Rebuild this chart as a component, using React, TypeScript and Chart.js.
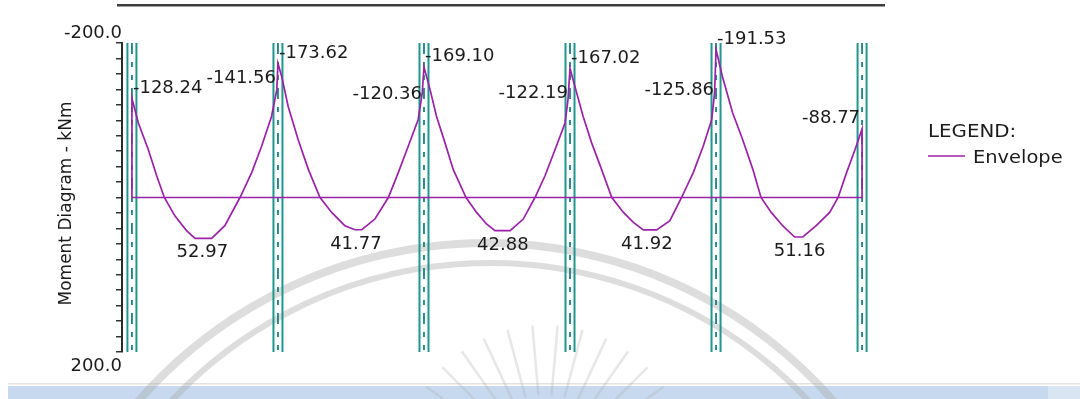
import React, { useEffect, useRef } from 'react';
import { Chart, registerables } from 'chart.js';

Chart.register(...registerables);

// ---- Data (x in m along the beam, M in kNm) ----
const supportX = [0, 5, 10, 15, 20, 25];

const envelopeX = [
  0, 0, 0.22, 0.56, 0.85, 1.11, 1.47, 1.87, 2.16, 2.73, 3.18, 3.70, 4.10, 4.44, 4.78, 4.96, 5.0,
  5.13, 5.35, 5.69, 6.04, 6.44, 6.84, 7.29, 7.64, 7.87, 8.32, 8.78, 9.12, 9.46, 9.80, 9.94, 10.0,
  10.21, 10.43, 10.72, 11.00, 11.44, 11.80, 12.14, 12.43, 12.95, 13.40, 13.80, 14.14, 14.49, 14.83, 14.93, 15.0,
  15.2, 15.45, 15.74, 16.08, 16.43, 16.83, 17.17, 17.51, 17.97, 18.42, 18.82, 19.22, 19.56, 19.85, 19.95, 20.0,
  20.22, 20.57, 20.91, 21.26, 21.54, 21.89, 22.28, 22.69, 22.97, 23.43, 23.89, 24.18, 24.47, 24.76, 25.0,
  25.0, 0,
];
const envelopeM = [
  0, -128.24, -96.5, -62.1, -27.8, 0, 23.7, 42.9, 52.97, 52.97, 36.5, 0, -32.2, -66.4, -104.9, -139.3, -173.62,
  -156.4, -117.8, -75.0, -36.4, 0, 19.3, 36.5, 41.77, 41.77, 27.9, 0, -32.2, -66.4, -100.7, -135.0, -169.10,
  -139.3, -104.9, -70.7, -36.4, 0, 19.3, 34.3, 42.88, 42.88, 27.9, 0, -27.8, -62.1, -96.5, -126.4, -167.02,
  -139.3, -104.9, -70.7, -36.4, 0, 19.3, 32.2, 41.92, 41.92, 30.1, 0, -32.2, -66.4, -100.7, -135.0, -191.53,
  -156.4, -109.3, -75.0, -36.4, 0, 19.3, 36.5, 51.16, 51.16, 36.5, 19.3, 0, -32.2, -62.1, -88.77,
  0, 0,
];

const hogLabelX = [0, 5, 5, 10, 10, 15, 15, 20, 20, 25];
const hogLabelM = [-128.24, -141.56, -173.62, -120.36, -169.10, -122.19, -167.02, -125.86, -191.53, -88.77];
const hogLabelSide = ['right', 'left', 'right', 'left', 'right', 'left', 'right', 'left', 'right', 'left'];

const sagLabelX = [2.41, 7.67, 12.70, 17.63, 22.86];
const sagLabelM = [52.97, 41.77, 42.88, 41.92, 51.16];

const yMin = -200;
const yMax = 200;
const yTickLabels = [-200, 200];
const yTitle = 'Moment Diagram - kNm';
const seriesName = 'Envelope';
const legendTitle = 'LEGEND:';

// ---- Styles ----
const PURPLE = '#9a22a6';
const TEAL = '#1f968e';
const TEAL_DARK = '#1b827c';
const TEXT = '#1b1b1b';
const FONT = '"DejaVu Sans", "Liberation Sans", sans-serif';

function drawText(ctx: CanvasRenderingContext2D, text: string, x: number, y: number, align: CanvasTextAlign, scaleX = 1) {
  ctx.save();
  ctx.translate(x, y);
  ctx.scale(scaleX, 1);
  ctx.textAlign = align;
  ctx.textBaseline = 'alphabetic';
  ctx.fillText(text, 0, 0);
  ctx.restore();
}

const decorPlugin = {
  id: 'decor',
  beforeDraw(chart: any) {
    const ctx: CanvasRenderingContext2D = chart.ctx;
    ctx.save();
    ctx.fillStyle = '#ffffff';
    ctx.fillRect(0, 0, chart.width, chart.height);
    // bottom band
    ctx.fillStyle = '#e2e2e2';
    ctx.fillRect(8, 383, 1072, 1.5);
    ctx.fillStyle = '#c6d9ef';
    ctx.fillRect(8, 386, 1040, 13);
    ctx.fillStyle = '#d9e5f3';
    ctx.fillRect(1048, 386, 32, 13);
    // faint watermark
    ctx.strokeStyle = 'rgba(175,175,175,0.42)';
    ctx.lineWidth = 8;
    ctx.beginPath();
    ctx.arc(486, 704, 461, 3.80, 5.63);
    ctx.stroke();
    ctx.lineWidth = 6;
    ctx.beginPath();
    ctx.arc(490, 700, 437, 3.85, 5.58);
    ctx.stroke();
    ctx.strokeStyle = 'rgba(175,175,175,0.3)';
    ctx.lineWidth = 2.5;
    for (let a = 205; a <= 335; a += 10) {
      const r = (a * Math.PI) / 180;
      ctx.beginPath();
      ctx.moveTo(545 + Math.cos(r) * 75, 470 + Math.sin(r) * 75);
      ctx.lineTo(545 + Math.cos(r) * 145, 470 + Math.sin(r) * 145);
      ctx.stroke();
    }
    // top rule
    ctx.fillStyle = '#3c3c3c';
    ctx.fillRect(117, 4, 768, 2.5);
    ctx.restore();
  },
  beforeDatasetsDraw(chart: any) {
    const ctx: CanvasRenderingContext2D = chart.ctx;
    const xs = chart.scales.x;
    const ys = chart.scales.y;
    const top = ys.getPixelForValue(yMin);
    const bottom = ys.getPixelForValue(yMax);
    ctx.save();
    supportX.forEach((s) => {
      const px = xs.getPixelForValue(s);
      ctx.strokeStyle = TEAL;
      ctx.lineWidth = 2;
      ctx.setLineDash([]);
      [px - 4.5, px + 4.5].forEach((lx) => {
        ctx.beginPath();
        ctx.moveTo(lx, top);
        ctx.lineTo(lx, bottom);
        ctx.stroke();
      });
      ctx.strokeStyle = TEAL_DARK;
      ctx.lineWidth = 1.8;
      ctx.setLineDash([11, 8, 5, 8, 5, 8]);
      ctx.beginPath();
      ctx.moveTo(px, top);
      ctx.lineTo(px, bottom);
      ctx.stroke();
    });
    ctx.restore();
  },
  afterDatasetsDraw(chart: any) {
    const ctx: CanvasRenderingContext2D = chart.ctx;
    const xs = chart.scales.x;
    const ys = chart.scales.y;
    ctx.save();
    ctx.fillStyle = TEXT;
    ctx.font = `18px ${FONT}`;
    hogLabelX.forEach((x, i) => {
      const px = xs.getPixelForValue(x);
      const py = ys.getPixelForValue(hogLabelM[i]);
      const right = hogLabelSide[i] === 'right';
      drawText(ctx, hogLabelM[i].toFixed(2), right ? px + 1 : px - 2, py - 5.5, right ? 'left' : 'right');
    });
    sagLabelX.forEach((x, i) => {
      const px = xs.getPixelForValue(x);
      const py = ys.getPixelForValue(sagLabelM[i]);
      drawText(ctx, sagLabelM[i].toFixed(2), px, py + 19, 'center');
    });
    // y tick labels at the ends
    const axisX = chart.chartArea.left;
    yTickLabels.forEach((v) => {
      const py = ys.getPixelForValue(v);
      const off = v === yMin ? -5 : 19;
      drawText(ctx, v.toFixed(1), axisX, py + off, 'right');
    });
    // y axis title
    ctx.font = `17px ${FONT}`;
    ctx.save();
    ctx.translate(71, (ys.getPixelForValue(yMin) + ys.getPixelForValue(yMax)) / 2 + 6);
    ctx.rotate(-Math.PI / 2);
    ctx.textAlign = 'center';
    ctx.textBaseline = 'alphabetic';
    ctx.fillText(yTitle, 0, 0);
    ctx.restore();
    // legend
    ctx.font = `18px ${FONT}`;
    drawText(ctx, legendTitle, 928, 137, 'left', 1.1);
    ctx.strokeStyle = PURPLE;
    ctx.lineWidth = 1.6;
    ctx.beginPath();
    ctx.moveTo(928, 156);
    ctx.lineTo(965, 156);
    ctx.stroke();
    drawText(ctx, seriesName, 973, 163, 'left', 1.08);
    ctx.restore();
  },
};

export default function App() {
  const canvasRef = useRef<HTMLCanvasElement | null>(null);

  useEffect(() => {
    const canvas = canvasRef.current;
    if (!canvas) return;
    const points = envelopeX.map((x, i) => ({ x, y: envelopeM[i] }));
    const chart = new Chart(canvas, {
      type: 'scatter',
      data: {
        datasets: [
          {
            label: seriesName,
            data: points,
            showLine: true,
            borderColor: PURPLE,
            backgroundColor: PURPLE,
            borderWidth: 1.7,
            pointRadius: 0,
            pointHoverRadius: 0,
            tension: 0,
            fill: false,
          },
        ],
      },
      options: {
        animation: false,
        responsive: false,
        maintainAspectRatio: false,
        layout: { padding: { left: 116, right: 208, top: 43, bottom: 47 } },
        plugins: {
          legend: { display: false },
          tooltip: { enabled: false },
        },
        scales: {
          x: { type: 'linear', min: -0.34, max: 25.34, display: false },
          y: {
            type: 'linear',
            min: yMin,
            max: yMax,
            reverse: true,
            border: { display: true, color: '#2a2a2a', width: 2 },
            grid: { drawOnChartArea: false, drawTicks: true, tickLength: 6, color: '#333333', lineWidth: 1.5 },
            ticks: { display: false, stepSize: 20 },
          },
        },
      },
      plugins: [decorPlugin],
    });
    return () => chart.destroy();
  }, []);

  return (
    <div style={{ position: 'fixed', left: 0, top: 0, width: 1080, height: 399, background: '#fff' }}>
      <canvas ref={canvasRef} width={1080} height={399} style={{ display: 'block' }} />
    </div>
  );
}
